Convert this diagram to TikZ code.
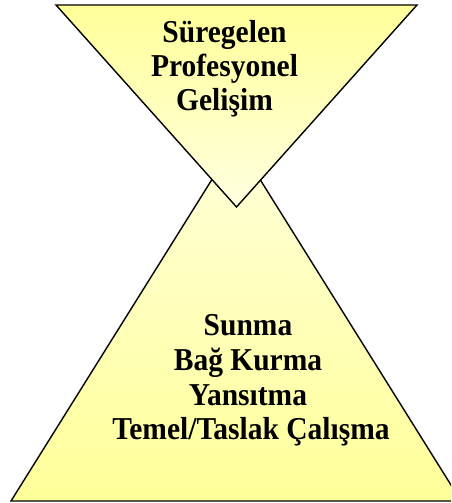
\documentclass[tikz,border=0pt]{standalone}
\usepackage{fontspec}
\setmainfont{Liberation Serif}
\newcommand{\tallt}[1]{\scalebox{1}[1.08]{#1}}
\begin{document}
\begin{tikzpicture}[x=1pt,y=-1pt,
  tri/.style={draw=black,line width=1.4pt,line join=miter},
  lbl/.style={anchor=base,inner sep=0pt,font=\fontsize{29.5}{34}\selectfont\bfseries}]
\useasboundingbox (0,0) rectangle (451,503);
\clip (0,0) rectangle (451,503);
% lower triangle
\path[tri,top color=yellow!15!white,bottom color={rgb,255:red,255;green,255;blue,153}]
  (236,141) -- (461,501) -- (11,501) -- cycle;
% upper inverted triangle
\path[tri,top color={rgb,255:red,255;green,255;blue,153},bottom color=yellow!12!white]
  (56,5) -- (417,5) -- (236.5,207) -- cycle;
% upper text
\node[lbl] (u1) at (224.5,42.7) {\tallt{Süregelen}};
\node[lbl] (u2) at (224.5,76.7) {\tallt{Profesyonel}};
\node[lbl] (u3) at (224.5,110.7) {\tallt{Gelişim}};
% lower text
\node[lbl] (l1) at (248,335) {\tallt{Sunma}};
\node[lbl] (l2) at (248,370) {\tallt{Bağ Kurma}};
\node[lbl] (l3) at (248,405) {\tallt{Yansıtma}};
\node[lbl] (l4) at (251,439.5) {\tallt{Temel/Taslak Çalışma}};
\end{tikzpicture}
\end{document}
